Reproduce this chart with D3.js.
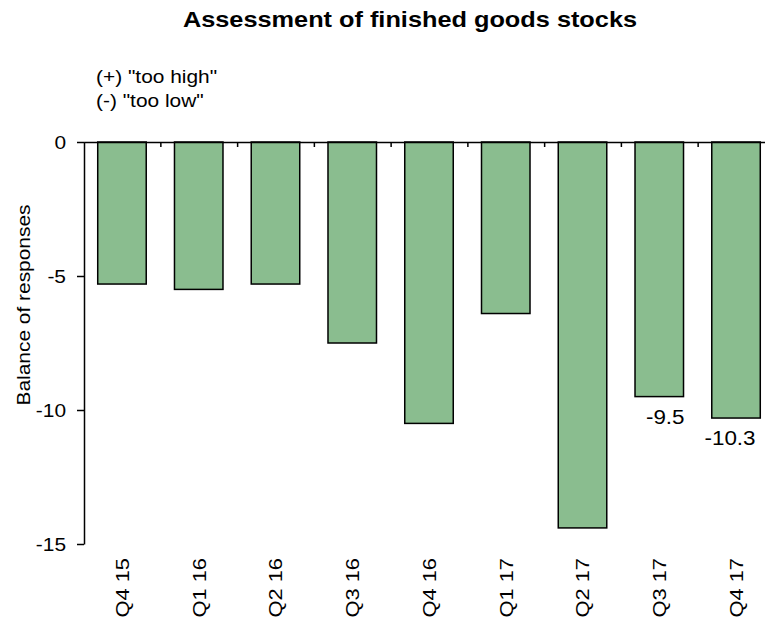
<!DOCTYPE html>
<html>
<head>
<meta charset="utf-8">
<script src="https://cdn.jsdelivr.net/npm/d3@7"></script>
<style>
  html, body { margin: 0; padding: 0; background: #fff; }
  svg { display: block; }
  text { font-family: "Liberation Sans", Arial, sans-serif; fill: #000; }
</style>
</head>
<body>
<svg id="chart" width="765" height="623"></svg>
<script>
// ---- data ----
const categories = ["Q4 15", "Q1 16", "Q2 16", "Q3 16", "Q4 16", "Q1 17", "Q2 17", "Q3 17", "Q4 17"];
const balance = [-5.3, -5.5, -5.3, -7.5, -10.5, -6.4, -14.4, -9.5, -10.3];
const yTicks = [0, -5, -10, -15];
const labelled = ["Q3 17", "Q4 17"];
const titleText = "Assessment  of finished goods stocks";
const legendLines = ['(+) "too high"', '(-) "too low"'];
const yLabel = "Balance of responses";

// ---- layout ----
const svg = d3.select("#chart");
const x = d3.scaleBand().domain(categories).range([83.6, 774.4]).paddingInner(0.368).paddingOuter(0.184);
const y = d3.scaleLinear().domain([-15, 0]).range([544, 142]);
const barColor = "#8abd8f";
const FONT = '"Liberation Sans", Arial, sans-serif';

function stretch(sel, factor) {
  sel.each(function () {
    const len = this.getComputedTextLength();
    d3.select(this).attr("textLength", len * factor).attr("lengthAdjust", "spacingAndGlyphs");
  });
}

// title
svg.append("text")
  .attr("x", 410).attr("y", 27)
  .attr("text-anchor", "middle")
  .style("font-size", "22px").style("font-weight", "bold")
  .text(titleText)
  .call(stretch, 1.15);

// legend note
svg.selectAll("text.note").data(legendLines).join("text")
  .attr("class", "note")
  .attr("x", 96).attr("y", (d, i) => 83 + i * 24)
  .style("font-size", "19px")
  .text(d => d)
  .call(stretch, 1.1);

// bars
svg.append("g").selectAll("rect").data(categories).join("rect")
  .attr("x", d => x(d))
  .attr("width", x.bandwidth())
  .attr("y", y(0))
  .attr("height", (d, i) => y(balance[i]) - y(0))
  .attr("fill", barColor)
  .attr("stroke", "#000")
  .attr("stroke-width", 1.5);

// x axis line with boundary ticks (at y = 0)
const boundary = d3.scaleLinear().domain([0, categories.length]).range(x.range());
const xAxisG = svg.append("g").attr("transform", `translate(0,${y(0)})`)
  .call(d3.axisBottom(boundary).tickValues(d3.range(1, categories.length + 1)).tickSize(5).tickSizeOuter(0).tickFormat(""));
xAxisG.select(".domain").attr("stroke", "#000").attr("stroke-width", 1.5);
xAxisG.selectAll(".tick line").attr("stroke", "#000").attr("stroke-width", 1.5);

// category labels (low position)
const catG = svg.append("g").attr("transform", "translate(0,556)")
  .call(d3.axisBottom(x).tickSize(0).tickPadding(0));
catG.select(".domain").remove();
catG.selectAll(".tick text")
  .attr("transform", "rotate(-90)")
  .attr("text-anchor", "end")
  .attr("x", -2).attr("y", 0).attr("dy", "0.36em")
  .style("font-size", "19px").style("font-family", FONT)
  .call(stretch, 1.15);

// y axis
const yAxisG = svg.append("g").attr("transform", "translate(84,0)")
  .call(d3.axisLeft(y).tickValues(yTicks).tickSize(7).tickSizeOuter(0).tickPadding(11).tickFormat(d => String(d)));
yAxisG.select(".domain").attr("stroke", "#000").attr("stroke-width", 1.5);
yAxisG.selectAll(".tick line").attr("stroke", "#000").attr("stroke-width", 1.5);
yAxisG.selectAll(".tick text")
  .style("font-size", "19px").style("font-family", FONT)
  .call(stretch, 1.1);

// y label
svg.append("text")
  .attr("transform", "translate(30,305) rotate(-90)")
  .attr("text-anchor", "middle")
  .style("font-size", "19px")
  .text(yLabel)
  .call(stretch, 1.1);

// data labels
svg.append("g").selectAll("text").data(categories.filter(c => labelled.includes(c))).join("text")
  .attr("x", d => x(d) + x.bandwidth() / 2 + (d === "Q3 17" ? 6 : -6))
  .attr("y", d => y(balance[categories.indexOf(d)]) + 27)
  .attr("text-anchor", "middle")
  .style("font-size", "20px")
  .text(d => String(balance[categories.indexOf(d)]))
  .call(stretch, 1.12);
</script>
</body>
</html>
